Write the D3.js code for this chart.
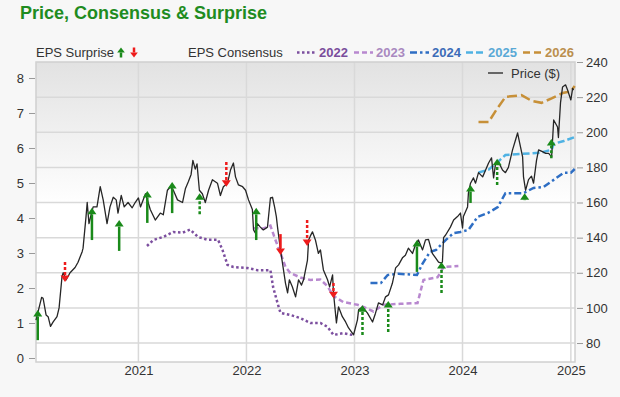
<!DOCTYPE html>
<html>
<head>
<meta charset="utf-8">
<script src="https://cdn.jsdelivr.net/npm/d3@7"></script>
<style>
  body { margin: 0; background: #f7f7f7; }
  svg { display: block; font-family: "Liberation Sans", Arial, sans-serif; }
</style>
</head>
<body>
<svg id="chart" width="620" height="397"></svg>
<script>
// ---- data ----
var price = [
  ["2020-01-21", 93], ["2020-02-09", 106], ["2020-02-14", 105.5], ["2020-02-24", 96], ["2020-03-02", 95],
  ["2020-03-10", 89.5], ["2020-03-19", 92], ["2020-04-01", 95], ["2020-04-08", 100], ["2020-04-18", 118],
  ["2020-04-22", 120], ["2020-05-02", 116], ["2020-05-15", 120], ["2020-06-01", 123], ["2020-06-11", 126],
  ["2020-06-25", 132], ["2020-06-28", 134], ["2020-07-08", 152], ["2020-07-12", 160], ["2020-07-18", 148],
  ["2020-07-25", 153], ["2020-08-01", 157.5], ["2020-08-14", 157.5], ["2020-08-25", 169], ["2020-09-04", 161.5],
  ["2020-09-17", 148], ["2020-09-27", 157.5], ["2020-10-08", 163], ["2020-10-18", 161.5], ["2020-10-24", 154],
  ["2020-11-04", 164], ["2020-11-14", 157.5], ["2020-11-27", 160], ["2020-12-11", 157], ["2020-12-21", 160],
  ["2021-01-01", 162.6], ["2021-01-08", 157.5], ["2021-01-25", 165], ["2021-02-10", 156], ["2021-02-27", 150],
  ["2021-03-16", 154], ["2021-03-26", 153], ["2021-04-09", 167], ["2021-04-19", 169], ["2021-04-29", 167],
  ["2021-05-13", 161.5], ["2021-05-30", 160], ["2021-06-09", 168], ["2021-06-19", 172], ["2021-06-28", 176],
  ["2021-07-04", 184], ["2021-07-12", 179], ["2021-07-18", 182], ["2021-07-26", 167], ["2021-08-05", 165],
  ["2021-08-15", 160], ["2021-08-26", 167], ["2021-09-08", 173], ["2021-09-25", 171], ["2021-10-05", 164],
  ["2021-10-15", 169], ["2021-10-29", 171], ["2021-11-08", 178.5], ["2021-11-18", 182.5], ["2021-11-25", 174.6],
  ["2021-12-05", 170], ["2021-12-19", 169], ["2021-12-29", 167], ["2022-01-08", 161.5], ["2022-01-21", 156],
  ["2022-01-25", 144.4], ["2022-01-31", 142.7], ["2022-02-07", 148], ["2022-02-17", 146], ["2022-02-27", 144.4],
  ["2022-03-13", 146], ["2022-03-23", 162.6], ["2022-03-30", 163], ["2022-04-06", 157.5], ["2022-04-12", 152],
  ["2022-04-16", 146], ["2022-04-26", 133], ["2022-05-13", 114], ["2022-05-20", 108.6], ["2022-05-26", 116],
  ["2022-06-05", 112], ["2022-06-16", 106.3], ["2022-06-26", 116], ["2022-07-06", 113], ["2022-07-13", 116],
  ["2022-07-26", 127], ["2022-07-30", 138.7], ["2022-08-05", 141], ["2022-08-12", 143.3], ["2022-08-22", 138.7],
  ["2022-09-01", 131], ["2022-09-08", 133], ["2022-09-18", 121.6], ["2022-10-02", 116], ["2022-10-09", 112],
  ["2022-10-19", 118.8], ["2022-10-22", 108.6], ["2022-11-01", 91.5], ["2022-11-08", 100.6], ["2022-11-21", 95],
  ["2022-12-02", 92], ["2022-12-12", 88.6], ["2022-12-29", 84.7], ["2023-01-11", 93.2], ["2023-01-15", 99],
  ["2023-01-28", 100.6], ["2023-02-14", 97], ["2023-03-03", 92], ["2023-03-13", 97], ["2023-03-23", 102.9],
  ["2023-04-06", 101.7], ["2023-04-16", 106.3], ["2023-04-26", 107.4], ["2023-05-09", 114], ["2023-05-20", 122.8],
  ["2023-05-30", 124.5], ["2023-06-12", 128.5], ["2023-06-22", 130], ["2023-07-02", 134], ["2023-07-16", 131],
  ["2023-07-26", 136], ["2023-08-05", 138.7], ["2023-08-19", 133], ["2023-08-29", 138.7], ["2023-09-08", 139],
  ["2023-09-21", 131], ["2023-10-02", 128.5], ["2023-10-12", 126], ["2023-10-19", 125.6], ["2023-10-25", 126],
  ["2023-10-29", 140], ["2023-11-05", 141.5], ["2023-11-21", 146], ["2023-12-02", 150], ["2023-12-15", 152],
  ["2023-12-25", 154], ["2024-01-01", 145.5], ["2024-01-04", 152], ["2024-01-18", 157.5], ["2024-01-21", 165.5],
  ["2024-01-28", 171], ["2024-02-07", 174], ["2024-02-14", 171], ["2024-02-24", 177], ["2024-03-09", 174.6],
  ["2024-03-19", 178.5], ["2024-03-29", 182.5], ["2024-04-08", 185.4], ["2024-04-15", 174], ["2024-04-22", 182.5],
  ["2024-05-02", 183], ["2024-05-15", 178.5], ["2024-05-25", 177], ["2024-06-04", 180], ["2024-06-18", 190],
  ["2024-06-28", 195.6], ["2024-07-05", 199.6], ["2024-07-12", 194], ["2024-07-22", 186], ["2024-07-25", 174.6],
  ["2024-08-01", 167], ["2024-08-11", 173], ["2024-08-21", 175], ["2024-08-28", 171], ["2024-09-07", 184],
  ["2024-09-14", 190], ["2024-09-27", 189], ["2024-10-08", 188], ["2024-10-18", 188], ["2024-10-28", 186],
  ["2024-11-04", 207], ["2024-11-17", 203], ["2024-11-20", 197], ["2024-11-27", 216.7], ["2024-12-04", 225.8],
  ["2024-12-14", 227], ["2024-12-21", 224], ["2025-01-01", 218.4], ["2025-01-07", 225], ["2025-01-10", 224]
];

var consensus2022 = [
  ["2021-01-30", 3.2], ["2021-02-20", 3.37], ["2021-03-26", 3.46], ["2021-04-29", 3.6], ["2021-05-30", 3.58],
  ["2021-06-25", 3.67], ["2021-07-21", 3.46], ["2021-08-22", 3.38], ["2021-09-27", 3.38], ["2021-10-12", 3.09],
  ["2021-10-29", 2.66], ["2021-11-18", 2.6], ["2022-01-04", 2.57], ["2022-02-07", 2.51], ["2022-03-23", 2.51],
  ["2022-04-01", 2.03], ["2022-04-16", 1.57], ["2022-04-26", 1.29], ["2022-05-29", 1.23], ["2022-07-02", 1.14],
  ["2022-08-05", 1.0], ["2022-09-08", 1.0], ["2022-10-02", 0.89], ["2022-10-22", 0.66], ["2022-11-24", 0.71],
  ["2022-12-25", 0.66]
];
var consensus2023 = [
  ["2022-01-25", 3.71], ["2022-02-27", 3.7], ["2022-03-23", 3.78], ["2022-04-09", 3.37], ["2022-04-26", 3.0],
  ["2022-05-13", 2.6], ["2022-05-29", 2.43], ["2022-07-02", 2.3], ["2022-08-05", 2.23], ["2022-09-08", 2.24],
  ["2022-10-02", 2.05], ["2022-10-22", 1.77], ["2022-11-24", 1.6], ["2023-01-11", 1.52], ["2023-01-31", 1.46],
  ["2023-03-06", 1.33], ["2023-04-09", 1.52], ["2023-06-06", 1.55], ["2023-08-02", 1.57], ["2023-08-22", 2.23],
  ["2023-10-09", 2.31], ["2023-10-29", 2.6], ["2023-12-18", 2.63]
];
var consensus2024 = [
  ["2023-02-24", 2.14], ["2023-03-31", 2.14], ["2023-04-23", 2.37], ["2023-05-29", 2.41], ["2023-07-31", 2.37],
  ["2023-08-19", 2.7], ["2023-09-13", 3.03], ["2023-10-04", 3.09], ["2023-11-05", 3.37], ["2023-12-02", 3.57],
  ["2023-12-25", 3.6], ["2024-01-21", 3.66], ["2024-02-21", 4.03], ["2024-03-26", 4.14], ["2024-04-29", 4.31],
  ["2024-05-25", 4.71], ["2024-07-25", 4.71], ["2024-08-28", 4.86], ["2024-10-01", 4.89], ["2024-11-04", 5.09],
  ["2024-12-08", 5.29], ["2025-01-01", 5.29], ["2025-01-14", 5.4]
];
var consensus2025 = [
  ["2024-02-24", 5.3], ["2024-03-29", 5.38], ["2024-04-29", 5.6], ["2024-05-25", 5.8], ["2024-07-18", 5.83],
  ["2024-09-24", 5.87], ["2024-10-28", 5.95], ["2024-11-04", 6.12], ["2024-12-08", 6.2], ["2025-01-14", 6.31]
];
var consensus2026 = [
  ["2024-02-24", 6.74], ["2024-03-29", 6.74], ["2024-04-22", 7.06], ["2024-05-25", 7.46], ["2024-07-18", 7.51],
  ["2024-08-21", 7.35], ["2024-09-24", 7.29], ["2024-10-28", 7.42], ["2024-12-04", 7.57], ["2025-01-01", 7.62],
  ["2025-01-14", 7.77]
];

// [report date, consensus EPS, actual EPS, line kind]
var surprises = [
  ["2020-01-27", 0.51, 1.37, "solid"], ["2020-04-28", 2.74, 2.17, "dotted"], ["2020-07-28", 3.37, 4.29, "solid"],
  ["2020-10-28", 3.06, 3.94, "solid"], ["2021-01-31", 3.86, 4.77, "solid"], ["2021-04-25", 4.14, 5.03, "solid"],
  ["2021-07-27", 4.11, 4.71, "dotted"], ["2021-10-25", 5.6, 4.89, "dotted"], ["2022-02-03", 3.37, 4.29, "solid"],
  ["2022-04-26", 3.54, 2.94, "solid"], ["2022-07-25", 3.94, 3.2, "dotted"], ["2022-10-22", 2.14, 1.71, "dotted"],
  ["2023-01-28", 0.66, 1.51, "dotted"], ["2023-04-25", 0.74, 1.63, "dotted"], ["2023-07-31", 2.46, 3.37, "solid"],
  ["2023-10-22", 1.86, 2.74, "dotted"], ["2024-01-28", 4.43, 4.94, "solid"], ["2024-04-27", 4.94, 5.69, "dotted"],
  ["2024-07-29", 4.51, 4.71, "dotted"], ["2024-10-27", 5.71, 6.26, "dotted"]
];

var epsTicks = [0, 1, 2, 3, 4, 5, 6, 7, 8];
var priceTicks = [80, 100, 120, 140, 160, 180, 200, 220, 240];
var yearTicks = ["2021-01-01", "2022-01-01", "2023-01-01", "2024-01-01", "2025-01-01"];
var seriesNames = ["2022", "2023", "2024", "2025", "2026"];

// ---- layout ----
var parse = d3.timeParse("%Y-%m-%d");
var plotLeft = 36, plotRight = 575, plotTop = 62, plotBottom = 362;
var svg = d3.select("#chart");

var x = d3.scaleTime().domain([parse("2020-01-21"), parse("2025-01-15")]).range([plotLeft, plotRight]);
var yEps = d3.scaleLinear().domain([-0.114, 8.457]).range([plotBottom, plotTop]);
var yPrice = d3.scaleLinear().domain([69.2, 240]).range([plotBottom, plotTop]);

var green = "#1a8a1a", red = "#ee1b1b";
var styles = {
  "2022": { color: "#7c4f9f", dash: "2.5,2.5", text: "#7a4d9c" },
  "2023": { color: "#b888cf", dash: "5,3", text: "#a989c0" },
  "2024": { color: "#2e6ec4", dash: "7,3,2.5,3", text: "#3c6cb8" },
  "2025": { color: "#4fb2e3", dash: "7,3", text: "#5aa9d6" },
  "2026": { color: "#c79038", dash: "10,4", text: "#bb8f4e" }
};
var consensusData = {
  "2022": consensus2022, "2023": consensus2023, "2024": consensus2024,
  "2025": consensus2025, "2026": consensus2026
};

// title
svg.append("text")
  .attr("x", 20).attr("y", 19)
  .style("font-size", "18px").style("font-weight", "bold")
  .style("fill", "#1f8c1f")
  .text("Price, Consensus & Surprise");

// plot background
var grad = svg.append("defs").append("linearGradient")
  .attr("id", "bg").attr("x1", 0).attr("y1", 0).attr("x2", 0).attr("y2", 1);
grad.append("stop").attr("offset", "0%").attr("stop-color", "#e2e2e2");
grad.append("stop").attr("offset", "48%").attr("stop-color", "#ffffff");
grad.append("stop").attr("offset", "100%").attr("stop-color", "#ffffff");

svg.append("rect")
  .attr("x", plotLeft).attr("y", plotTop)
  .attr("width", plotRight - plotLeft).attr("height", plotBottom - plotTop)
  .style("fill", "url(#bg)");

// grid
svg.append("g").selectAll("line")
  .data(priceTicks.slice(0, -1))
  .enter().append("line")
  .attr("x1", plotLeft).attr("x2", plotRight)
  .attr("y1", function (d) { return yPrice(d); })
  .attr("y2", function (d) { return yPrice(d); })
  .style("stroke", "#d9d9d9").style("stroke-width", 1.5);

svg.append("g").selectAll("line")
  .data(yearTicks)
  .enter().append("line")
  .attr("x1", function (d) { return x(parse(d)); })
  .attr("x2", function (d) { return x(parse(d)); })
  .attr("y1", plotTop).attr("y2", plotBottom)
  .style("stroke", "#d9d9d9").style("stroke-width", 1.5);

svg.append("rect")
  .attr("x", plotLeft).attr("y", plotTop)
  .attr("width", plotRight - plotLeft).attr("height", plotBottom - plotTop)
  .style("fill", "none").style("stroke", "#d0d0d0").style("stroke-width", 1.5);

// axes
function styleAxis(g) {
  g.select(".domain").remove();
  g.selectAll(".tick line").style("stroke", "#999");
  g.selectAll(".tick text").style("font-size", "13px").style("fill", "#333")
    .style("font-family", "'Liberation Sans', Arial, sans-serif");
}

svg.append("g")
  .attr("transform", "translate(35,0)")
  .call(d3.axisLeft(yEps).tickValues(epsTicks).tickSize(6).tickPadding(5).tickFormat(d3.format("d")))
  .call(styleAxis);

svg.append("g")
  .attr("transform", "translate(577,0)")
  .call(d3.axisRight(yPrice).tickValues(priceTicks).tickSize(6).tickPadding(3))
  .call(styleAxis);

svg.append("g")
  .attr("transform", "translate(0," + plotBottom + ")")
  .call(d3.axisBottom(x).tickValues(yearTicks.map(parse)).tickSize(0).tickPadding(4)
    .tickFormat(d3.timeFormat("%Y")))
  .call(styleAxis);

// consensus lines
var epsLine = d3.line()
  .x(function (d) { return x(parse(d[0])); })
  .y(function (d) { return yEps(d[1]); });

seriesNames.forEach(function (name) {
  svg.append("path")
    .datum(consensusData[name])
    .attr("d", epsLine)
    .style("fill", "none")
    .style("stroke", styles[name].color)
    .style("stroke-width", 2.5)
    .style("stroke-dasharray", styles[name].dash);
});

// price
var priceLine = d3.line()
  .x(function (d) { return x(parse(d[0])); })
  .y(function (d) { return yPrice(d[1]); });

svg.append("path")
  .datum(price)
  .attr("d", priceLine)
  .style("fill", "none")
  .style("stroke", "#262626")
  .style("stroke-width", 1.3)
  .style("stroke-linejoin", "round");

// surprise arrows
function drawArrow(g, cx, y0, y1, color, dotted, half, headH) {
  var dir = y1 < y0 ? 1 : -1; // 1 = pointing up
  headH = headH || 6.5;
  half = half || 4.5;
  g.append("line")
    .attr("x1", cx).attr("x2", cx)
    .attr("y1", y0).attr("y2", y1 + dir * headH)
    .style("stroke", color).style("stroke-width", 2.5)
    .style("stroke-dasharray", dotted ? "3,2" : null);
  g.append("path")
    .attr("d", "M" + cx + "," + y1 + "L" + (cx - half) + "," + (y1 + dir * headH) +
      "L" + (cx + half) + "," + (y1 + dir * headH) + "Z")
    .style("fill", color);
}

var arrows = svg.append("g");
surprises.forEach(function (s) {
  var up = s[2] > s[1];
  drawArrow(arrows, x(parse(s[0])), yEps(s[1]), yEps(s[2]), up ? green : red, s[3] === "dotted");
});

// legend
var legend = svg.append("g").style("font-size", "13px");
legend.append("text").attr("x", 36).attr("y", 57).style("fill", "#333").text("EPS Surprise");
drawArrow(legend, 121, 57.5, 47.5, green, false, 3.8, 5);
drawArrow(legend, 134, 47.5, 57.5, red, false, 3.8, 5);

legend.append("text").attr("x", 188).attr("y", 57).style("fill", "#333").text("EPS Consensus");

var lx = [297, 354, 410, 466, 523];
seriesNames.forEach(function (name, i) {
  legend.append("line")
    .attr("x1", lx[i]).attr("x2", lx[i] + 19)
    .attr("y1", 52.5).attr("y2", 52.5)
    .style("stroke", styles[name].color)
    .style("stroke-width", 2.5)
    .style("stroke-dasharray", name === "2024" ? "7,3,2.5,3" : name === "2026" ? "7,4" : styles[name].dash);
  legend.append("text")
    .attr("x", lx[i] + 22).attr("y", 57)
    .style("fill", styles[name].text)
    .style("font-weight", "bold")
    .text(name);
});

legend.append("line")
  .attr("x1", 488).attr("x2", 503).attr("y1", 73).attr("y2", 73)
  .style("stroke", "#666").style("stroke-width", 2);
legend.append("text").attr("x", 511).attr("y", 77.5).style("fill", "#333").text("Price ($)");
</script>
</body>
</html>
